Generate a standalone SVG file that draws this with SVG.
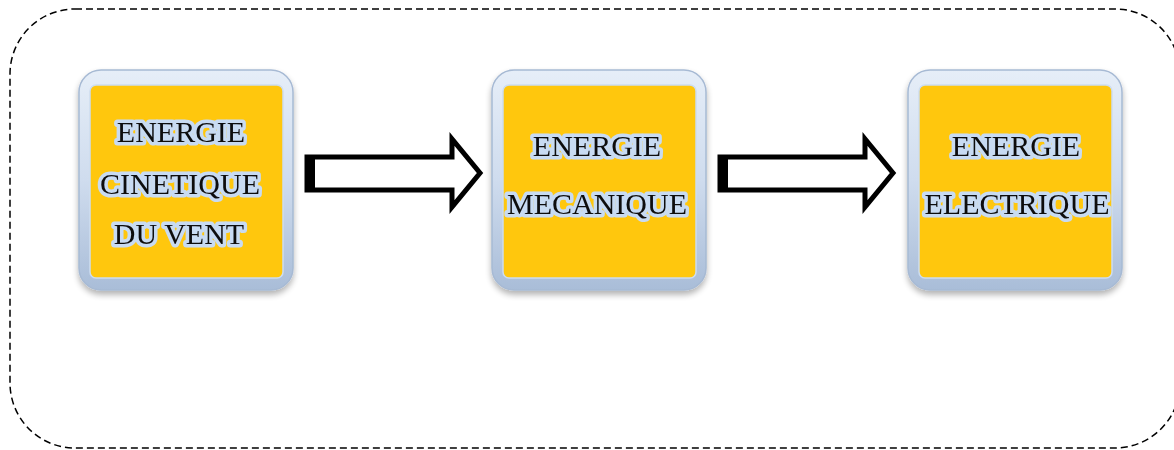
<svg xmlns="http://www.w3.org/2000/svg" width="1174" height="450" viewBox="0 0 1174 450">
<style>
.frame{fill:#ffffff;stroke:#000;stroke-width:1.5;stroke-dasharray:7 4}
.outer{fill:url(#g);stroke:#a7bad4;stroke-width:1.5}
.inner{fill:#ffc70e;stroke:#cdddf0;stroke-width:1.5}
.t{font-family:"Liberation Serif","Times New Roman",serif;font-size:30px;fill:#111;text-anchor:middle;stroke:#c8dbf2;stroke-width:7;stroke-linejoin:round;paint-order:stroke}
.arr{fill:#fff;stroke:#000;stroke-width:5;stroke-linejoin:miter}
</style>
<defs>
<linearGradient id="g" x1="0" y1="0" x2="0" y2="1">
<stop offset="0" stop-color="#e6eef8"/>
<stop offset="0.5" stop-color="#cfdcee"/>
<stop offset="1" stop-color="#a9bdd8"/>
</linearGradient>
<filter id="sh" x="-10%" y="-10%" width="120%" height="125%">
<feGaussianBlur in="SourceAlpha" stdDeviation="3"/>
<feOffset dx="0" dy="4"/>
<feComponentTransfer><feFuncA type="linear" slope="0.3"/></feComponentTransfer>
<feMerge><feMergeNode/><feMergeNode in="SourceGraphic"/></feMerge>
</filter>
</defs>
<rect class="frame" x="10" y="9" width="1170" height="439" rx="65"/>
<g id="connectors">
<path class="arr" d="M307 157 H452 V139 L480 173 L452 207 V190 H307 Z"/>
<rect x="305" y="157" width="10" height="33" fill="#000"/>
<path class="arr" d="M720 157 H865 V139 L893 173 L865 207 V190 H720 Z"/>
<rect x="718" y="157" width="10" height="33" fill="#000"/>
</g>
<g id="node1" filter="url(#sh)">
<rect class="outer" x="79" y="70" width="214" height="220" rx="22"/>
<rect class="inner" x="90" y="85" width="193" height="193" rx="6"/>
<text class="t" x="181" y="142">ENERGIE</text>
<text class="t" x="180" y="194">CINETIQUE</text>
<text class="t" x="179" y="244">DU VENT</text>
</g>
<g id="node2" filter="url(#sh)">
<rect class="outer" x="492" y="70" width="214" height="220" rx="22"/>
<rect class="inner" x="503" y="85" width="193" height="193" rx="6"/>
<text class="t" x="597" y="156">ENERGIE</text>
<text class="t" x="597" y="214">MECANIQUE</text>
</g>
<g id="node3" filter="url(#sh)">
<rect class="outer" x="908" y="70" width="214" height="220" rx="22"/>
<rect class="inner" x="919" y="85" width="193" height="193" rx="6"/>
<text class="t" x="1016" y="156">ENERGIE</text>
<text class="t" x="1017" y="214">ELECTRIQUE</text>
</g>
</svg>
